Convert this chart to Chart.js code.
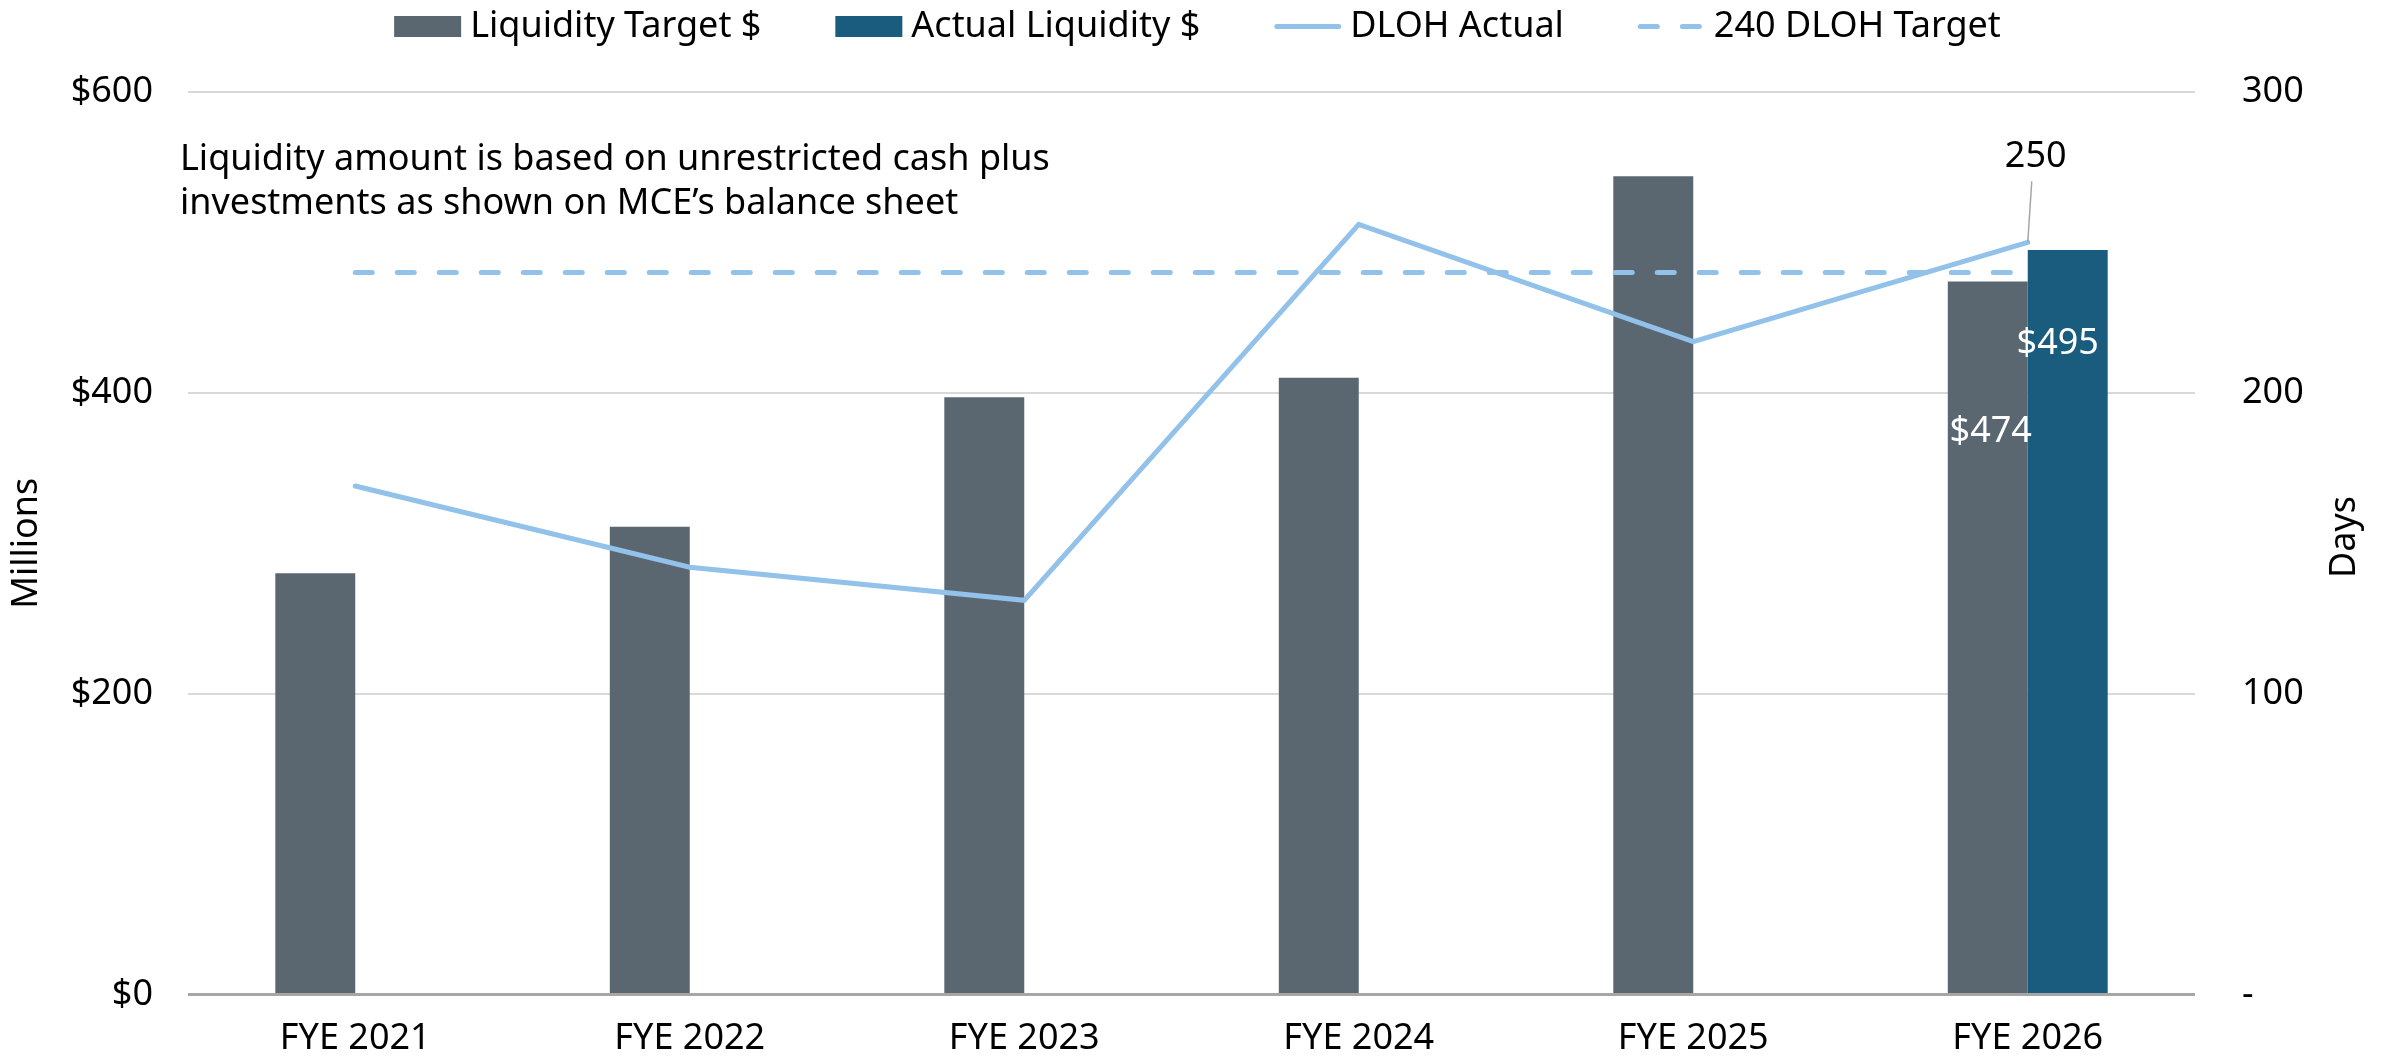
<!DOCTYPE html>
<html>
<head>
<meta charset="utf-8">
<script src="https://cdn.jsdelivr.net/npm/chart.js@4.4.0/dist/chart.umd.min.js"></script>
<style>
html,body{margin:0;padding:0;background:#ffffff;}
#wrap{width:2395px;height:1063px;position:relative;}
canvas{display:block;}
</style>
</head>
<body>
<div id="wrap"><canvas id="c" width="2395" height="1063"></canvas></div>
<script>
// ---- data ----
const categories = ['FYE 2021', 'FYE 2022', 'FYE 2023', 'FYE 2024', 'FYE 2025', 'FYE 2026'];
const liquidityTarget = [280, 311, 397, 410, 544, 474];
const actualLiquidity = [null, null, null, null, null, 495];
const dlohActual = [169, 142, 131, 256, 217, 250];
const dlohTarget = [240, 240, 240, 240, 240, 240];
const leftTicks = [0, 200, 400, 600];
const rightTicks = [0, 100, 200, 300];
const seriesNames = ['Liquidity Target $', 'Actual Liquidity $', 'DLOH Actual', '240 DLOH Target'];
const noteLines = ['Liquidity amount is based on unrestricted cash plus', 'investments as shown on MCE\u2019s balance sheet'];
const leftTitle = 'Millions';
const rightTitle = 'Days';

// ---- styles ----
const FONT = '"Noto Sans", Lato, "DejaVu Sans", sans-serif';
const FS = 36;
const C = {target:'#5A6770', actual:'#1A5C7D', dloh:'#92C1E9', grid:'#D9D9D9', axis:'#A6A6A6', text:'#000000'};
Chart.defaults.font.family = FONT;
Chart.defaults.font.size = FS;
Chart.defaults.color = C.text;

const extras = {
  id: 'extras',
  afterDatasetsDraw(chart) {
    const ctx = chart.ctx;
    ctx.save();
    ctx.font = FS + 'px ' + FONT;
    ctx.textAlign = 'center';
    ctx.textBaseline = 'middle';
    ctx.fillStyle = '#ffffff';
    const last = categories.length - 1;
    const m0 = chart.getDatasetMeta(0).data[last];
    const m1 = chart.getDatasetMeta(1).data[last];
    ctx.fillText('$' + liquidityTarget[last], m0.x + 3, m0.y + 150);
    ctx.fillText('$' + actualLiquidity[last], m1.x - 10, m1.y + 94);
    const p = chart.getDatasetMeta(2).data[last];
    ctx.strokeStyle = C.axis;
    ctx.lineWidth = 1.5;
    ctx.beginPath();
    ctx.moveTo(p.x, p.y);
    ctx.lineTo(p.x + 4, p.y - 61);
    ctx.stroke();
    ctx.fillStyle = C.text;
    ctx.textBaseline = 'alphabetic';
    ctx.fillText(String(dlohActual[last]), p.x + 8, p.y - 75);
    ctx.restore();
  },
  afterDraw(chart) {
    const ctx = chart.ctx;
    const W = chart.width;
    ctx.save();
    ctx.font = FS + 'px ' + FONT;
    ctx.fillStyle = C.text;
    ctx.textBaseline = 'alphabetic';
    ctx.textAlign = 'left';
    const sym = 67, gapT = 9, gapI = 74;
    const ds = chart.data.datasets;
    const widths = ds.map(d => sym + gapT + ctx.measureText(d.label).width);
    const total = widths.reduce((a, b) => a + b, 0) + gapI * (ds.length - 1);
    let x = (W - total) / 2;
    const base = 37;
    ds.forEach((d, i) => {
      if (d.type === 'line') {
        ctx.save();
        ctx.strokeStyle = d.borderColor;
        ctx.lineWidth = d.borderWidth;
        ctx.lineCap = 'round';
        ctx.setLineDash(d.borderDash || []);
        ctx.beginPath();
        ctx.moveTo(x + 2.5, 26.5);
        ctx.lineTo(x + sym - 2.5, 26.5);
        ctx.stroke();
        ctx.restore();
      } else {
        ctx.fillStyle = d.backgroundColor;
        ctx.fillRect(x, 16, sym, 21);
      }
      ctx.fillStyle = C.text;
      ctx.fillText(d.label, x + sym + gapT, base);
      x += widths[i] + gapI;
    });
    ctx.fillText(noteLines[0], 180, 170);
    ctx.fillText(noteLines[1], 180, 214);
    ctx.translate(2345, 537);
    ctx.rotate(-Math.PI / 2);
    ctx.textAlign = 'center';
    ctx.textBaseline = 'middle';
    ctx.fillText(rightTitle, 0, 0);
    ctx.restore();
  }
};

new Chart(document.getElementById('c'), {
  data: {
    labels: categories,
    datasets: [
      {type:'bar', label:seriesNames[0], data:liquidityTarget, backgroundColor:C.target, yAxisID:'y', order:2,
       categoryPercentage:0.478, barPercentage:1.0},
      {type:'bar', label:seriesNames[1], data:actualLiquidity, backgroundColor:C.actual, yAxisID:'y', order:2,
       categoryPercentage:0.478, barPercentage:1.0},
      {type:'line', label:seriesNames[2], data:dlohActual, borderColor:C.dloh, backgroundColor:C.dloh, borderWidth:5,
       pointRadius:0, tension:0, yAxisID:'y1', order:1, borderCapStyle:'round', borderJoinStyle:'miter'},
      {type:'line', label:seriesNames[3], data:dlohTarget, borderColor:C.dloh, backgroundColor:C.dloh, borderWidth:5,
       borderDash:[17, 25], borderCapStyle:'round', pointRadius:0, tension:0, yAxisID:'y1', order:1}
    ]
  },
  options: {
    responsive: false,
    animation: false,
    layout: {padding: {top: 92, left: 0, right: 0, bottom: 0}},
    plugins: {legend: {display: false}, tooltip: {enabled: false}},
    scales: {
      x: {
        offset: true,
        grid: {display: false, drawTicks: false},
        border: {display: false},
        ticks: {padding: 23, color: C.text},
        afterFit(s) { s.height = 66; }
      },
      y: {
        position: 'left', min: 0, max: 600,
        afterBuildTicks(s) { s.ticks = leftTicks.map(v => ({value: v})); },
        ticks: {padding: 35, color: C.text, callback: v => '$' + v},
        grid: {
          drawTicks: false,
          color: c => (c.tick && c.tick.value === 0) ? C.axis : C.grid,
          lineWidth: c => (c.tick && c.tick.value === 0) ? 3 : 2
        },
        border: {display: false},
        title: {display: true, text: leftTitle, color: C.text, padding: {top: 5, bottom: 0}},
        afterFit(s) { s.width = 188; }
      },
      y1: {
        position: 'right', min: 0, max: 300,
        afterBuildTicks(s) { s.ticks = rightTicks.map(v => ({value: v})); },
        ticks: {padding: 47, color: C.text, callback: v => v === 0 ? '-' : String(v)},
        grid: {display: false, drawTicks: false},
        border: {display: false},
        afterFit(s) { s.width = 200; }
      }
    }
  },
  plugins: [extras]
});
</script>
</body>
</html>
